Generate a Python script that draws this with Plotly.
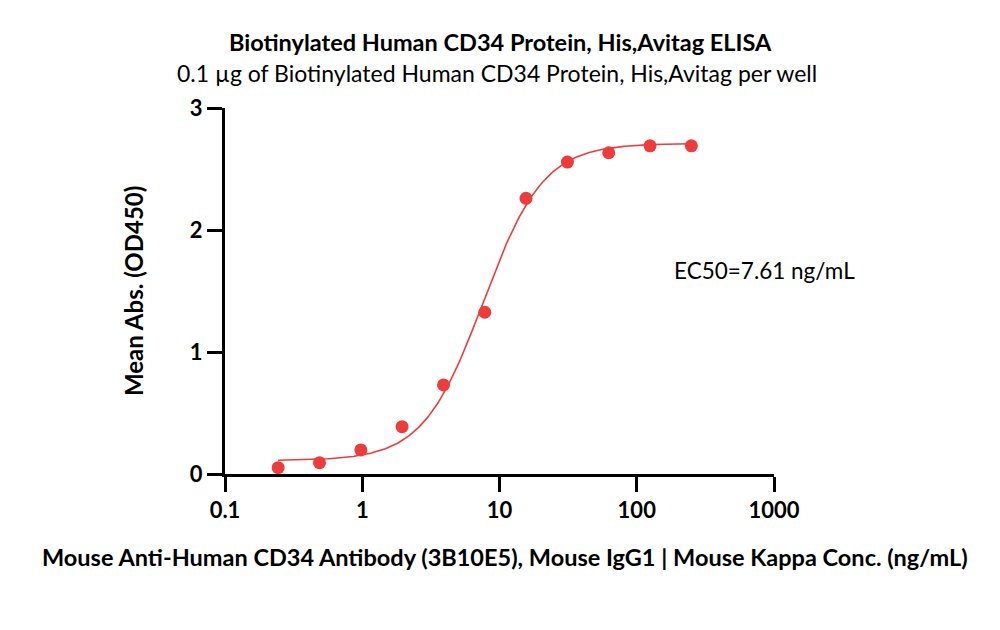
import numpy as np
import plotly.graph_objects as go

# Data
conc = [0.244, 0.488, 0.977, 1.95, 3.91, 7.81, 15.6, 31.25, 62.5, 125, 250]
od450 = [0.052, 0.093, 0.197, 0.388, 0.73, 1.326, 2.26, 2.557, 2.633, 2.69, 2.69]

# 4PL fit parameters (EC50 from the chart)
fit_bottom = 0.11
fit_top = 2.71
fit_ec50 = 7.61
fit_hill = 1.98

x_ticks = [0.1, 1, 10, 100, 1000]
x_tick_labels = ["0.1", "1", "10", "100", "1000"]
y_ticks = [0, 1, 2, 3]

red = "#EE3B3B"
fnt = "Lato"

xf = np.logspace(np.log10(conc[0]), np.log10(conc[-1]), 300)
yf = fit_bottom + (fit_top - fit_bottom) / (1 + (fit_ec50 / xf) ** fit_hill)

fig = go.Figure()
fig.add_trace(go.Scatter(x=xf, y=yf, mode="lines",
                         line=dict(color=red, width=1.6), hoverinfo="skip",
                         showlegend=False))
fig.add_trace(go.Scatter(x=conc, y=od450, mode="markers",
                         marker=dict(color=red, size=13),
                         cliponaxis=False, showlegend=False))

fig.update_layout(
    width=1000, height=630,
    margin=dict(l=225, r=226, t=108, b=156),
    plot_bgcolor="white", paper_bgcolor="white",
    font=dict(family=fnt, color="black"),
    xaxis=dict(type="log", range=[-1, 3], showline=True, linecolor="black",
               linewidth=3, ticks="outside", ticklen=15, tickwidth=3,
               tickcolor="black", tickvals=x_ticks, ticktext=x_tick_labels,
               showgrid=False, zeroline=False,
               tickfont=dict(family=fnt, size=22, color="black", weight="bold")),
    yaxis=dict(range=[0, 3], showline=True, linecolor="black", linewidth=3,
               ticks="outside", ticklen=15, tickwidth=3, tickcolor="black",
               tickvals=y_ticks, showgrid=False, zeroline=False,
               tickfont=dict(family=fnt, size=22, color="black", weight="bold")),
)

ann = [
    dict(text="<b>Biotinylated Human CD34 Protein, His,Avitag ELISA</b>", x=500, y=42, size=23.5),
    dict(text="0.1 µg of Biotinylated Human CD34 Protein, His,Avitag per well", x=497, y=73, size=23),
    dict(text="<b>Mouse Anti-Human CD34 Antibody (3B10E5), Mouse IgG1 | Mouse Kappa Conc. (ng/mL)</b>", x=505, y=557, size=23.5),
]
for a in ann:
    fig.add_annotation(text=a["text"], x=(a["x"] - 225) / 549, y=(630 - 156 - a["y"]) / 366,
                       xref="paper", yref="paper", showarrow=False,
                       xanchor="center", yanchor="middle",
                       font=dict(family=fnt, size=a["size"], color="black"))

fig.add_annotation(text="<b>Mean Abs. (OD450)</b>", x=(133 - 225) / 549, y=(474 - 291) / 366,
                   xref="paper", yref="paper", showarrow=False, textangle=-90,
                   xanchor="center", yanchor="middle",
                   font=dict(family=fnt, size=24, color="black"))
fig.add_annotation(text="EC50=7.61 ng/mL", x=(764 - 225) / 549, y=(474 - 270) / 366,
                   xref="paper", yref="paper", showarrow=False,
                   xanchor="center", yanchor="middle",
                   font=dict(family=fnt, size=22.5, color="black"))

fig.write_html("out.html")
